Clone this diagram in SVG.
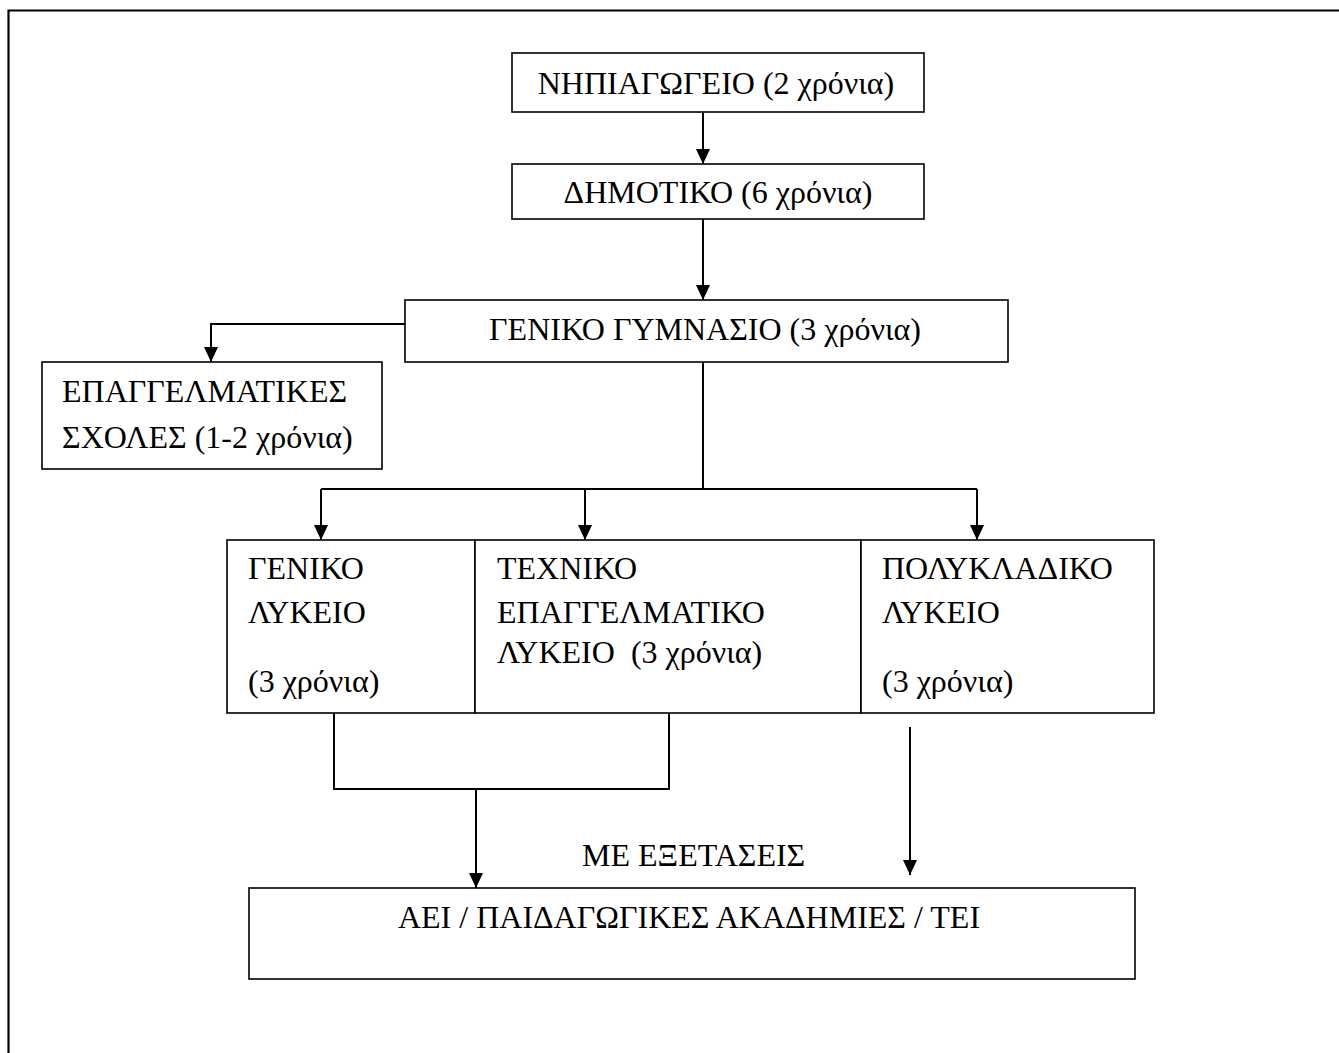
<svg xmlns="http://www.w3.org/2000/svg" width="1339" height="1053" viewBox="0 0 1339 1053">
<style>
.box{fill:#fff;stroke:#000;stroke-width:1.6}
.t{font-family:"Liberation Serif","Times New Roman",serif;font-size:32px;fill:#000}
.c{fill:none;stroke:#000;stroke-width:2}
</style>
<defs>
<marker id="ah" markerUnits="userSpaceOnUse" markerWidth="14" markerHeight="16" refX="15" refY="7" orient="auto">
<path d="M0,0 L15,7 L0,14 Z" fill="#000"/>
</marker>
</defs>
<rect width="1339" height="1053" fill="#fff"/>
<path d="M8.5,1053 V10.5 H1339" fill="none" stroke="#000" stroke-width="2.2"/>

<g id="connectors">
<path class="c" d="M703,112 V164" marker-end="url(#ah)"/>
<path class="c" d="M703,219 V300" marker-end="url(#ah)"/>
<path class="c" d="M405,324 H211 V362" marker-end="url(#ah)"/>
<path class="c" d="M703,362 V489"/>
<path class="c" d="M321,489 H977"/>
<path class="c" d="M321,489 V540" marker-end="url(#ah)"/>
<path class="c" d="M585,489 V540" marker-end="url(#ah)"/>
<path class="c" d="M977,489 V540" marker-end="url(#ah)"/>
<path class="c" d="M334,713 V789 H669 V713" stroke-width="1.6"/>
<path class="c" d="M476,789 V888" marker-end="url(#ah)"/>
<path class="c" d="M910,727 V875" marker-end="url(#ah)"/>
</g>

<g id="nipiagogeio">
<rect class="box" x="512" y="53" width="412" height="59"/>
<text class="t" x="716" y="94" text-anchor="middle">ΝΗΠΙΑΓΩΓΕΙΟ (2 χρόνια)</text>
</g>
<g id="dimotiko">
<rect class="box" x="512" y="164" width="412" height="55"/>
<text class="t" x="718" y="203" text-anchor="middle">ΔΗΜΟΤΙΚΟ (6 χρόνια)</text>
</g>
<g id="gymnasio">
<rect class="box" x="405" y="300" width="603" height="62"/>
<text class="t" x="705" y="340" text-anchor="middle">ΓΕΝΙΚΟ ΓΥΜΝΑΣΙΟ (3 χρόνια)</text>
</g>
<g id="epaggelmatikes">
<rect class="box" x="42" y="362" width="340" height="107"/>
<text class="t" x="62" y="402">ΕΠΑΓΓΕΛΜΑΤΙΚΕΣ</text>
<text class="t" x="62" y="448">ΣΧΟΛΕΣ (1-2 χρόνια)</text>
</g>
<g id="geniko-lykeio">
<rect class="box" x="227" y="540" width="248" height="173"/>
<text class="t" x="248" y="579">ΓΕΝΙΚΟ</text>
<text class="t" x="248" y="623">ΛΥΚΕΙΟ</text>
<text class="t" x="248" y="692">(3 χρόνια)</text>
</g>
<g id="tee">
<rect class="box" x="475" y="540" width="386" height="173"/>
<text class="t" x="497" y="579">ΤΕΧΝΙΚΟ</text>
<text class="t" x="497" y="623">ΕΠΑΓΓΕΛΜΑΤΙΚΟ</text>
<text class="t" x="497" y="663" xml:space="preserve">ΛΥΚΕΙΟ  (3 χρόνια)</text>
</g>
<g id="polykladiko">
<rect class="box" x="861" y="540" width="293" height="173"/>
<text class="t" x="882" y="579">ΠΟΛΥΚΛΑΔΙΚΟ</text>
<text class="t" x="882" y="623">ΛΥΚΕΙΟ</text>
<text class="t" x="882" y="692">(3 χρόνια)</text>
</g>
<g id="label-exetaseis">
<text class="t" x="582" y="866">ΜΕ ΕΞΕΤΑΣΕΙΣ</text>
</g>
<g id="aei">
<rect class="box" x="249" y="888" width="886" height="91"/>
<text class="t" x="689" y="928" text-anchor="middle">ΑΕΙ / ΠΑΙΔΑΓΩΓΙΚΕΣ ΑΚΑΔΗΜΙΕΣ / ΤΕΙ</text>
</g>
</svg>
